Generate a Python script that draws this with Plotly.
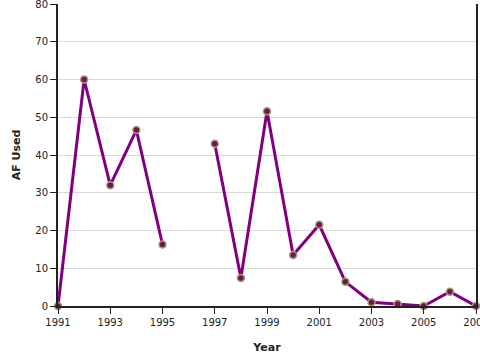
import plotly.graph_objects as go

years = list(range(1991, 2008))
af_used = [0, 60, 32, 46.6, 16.3, None, 43, 7.4, 51.6, 13.5, 21.5, 6.4, 1.0, 0.5, 0.0, 3.8, 0.0]

fig = go.Figure()
fig.add_trace(go.Scatter(
    x=years, y=af_used, mode="lines+markers", connectgaps=False,
    line=dict(color="#800080", width=3),
    marker=dict(size=7, color="#6a1a4c", line=dict(color="#a89a70", width=1.5)),
    showlegend=False,
))

font = "DejaVu Sans, Verdana, sans-serif"
fig.update_layout(
    width=480, height=360,
    margin=dict(l=58, r=4, t=4, b=54),
    paper_bgcolor="white", plot_bgcolor="white",
    font=dict(family=font, size=10, color="#222222"),
    xaxis=dict(
        range=[1991, 2007], tickmode="array", tickvals=list(range(1991, 2008, 2)),
        ticks="outside", ticklen=6, tickcolor="#222222", tickwidth=1, automargin=False,
        ticklabeloverflow="allow",
        showline=True, linecolor="#222222", linewidth=2, showgrid=False, zeroline=False,
        title=dict(text="<b>Year</b>", font=dict(size=11, family=font), standoff=16),
    ),
    yaxis=dict(
        range=[0, 80], dtick=10, ticks="outside", ticklen=6, tickcolor="#222222",
        ticklabeloverflow="allow",
        showline=True, linecolor="#222222", linewidth=2, mirror=True, automargin=False,
        showgrid=True, gridcolor="#d9d9d9", gridwidth=1, zeroline=False,
        title=dict(text="<b>AF Used</b>", font=dict(size=11, family=font), standoff=12),
    ),
)
fig.update_traces(cliponaxis=False)
fig.write_html("out.html", config={"displayModeBar": False},
               post_script="document.body.style.margin='0';document.body.style.overflow='hidden';")
